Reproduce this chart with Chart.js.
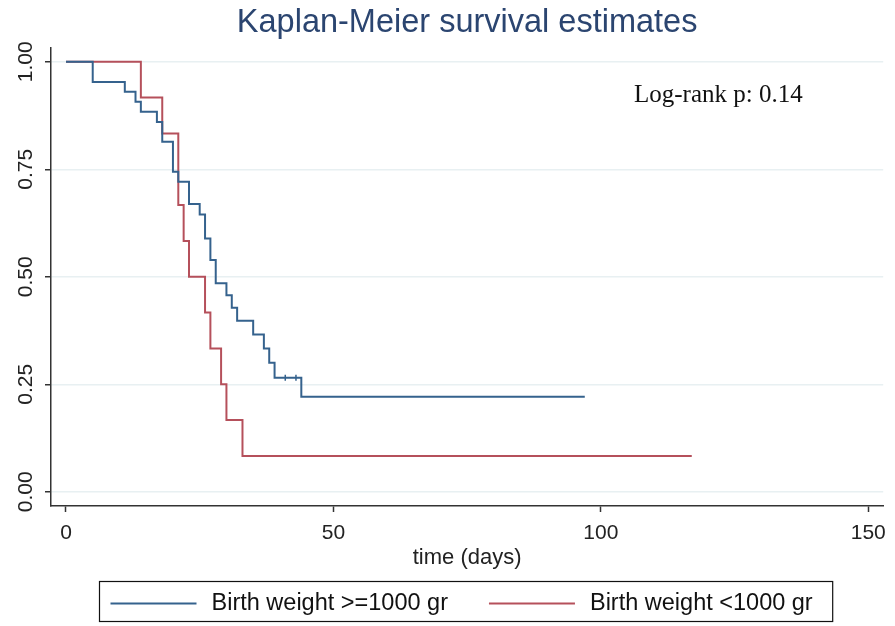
<!DOCTYPE html>
<html>
<head>
<meta charset="utf-8">
<title>Kaplan-Meier survival estimates</title>
<script src="https://cdn.jsdelivr.net/npm/chart.js@4.4.1/dist/chart.umd.min.js"></script>
<style>
  html, body { margin: 0; padding: 0; background: #fff; }
  #km { display: block; }
</style>
</head>
<body>
<canvas id="km" width="895" height="626"></canvas>
<script>
// survival estimates (time in days)
const blueDays = [0, 5, 11, 13, 14, 17, 18, 20, 21, 23, 25, 26, 27, 28, 30, 31, 32, 35, 37, 38, 39, 44, 97];
const blueSurv = [1, 0.953, 0.930, 0.907, 0.884, 0.860, 0.814, 0.744, 0.721, 0.669, 0.645, 0.589, 0.539, 0.485, 0.457, 0.428, 0.398, 0.366, 0.333, 0.300, 0.265, 0.221, 0.221];
const blueCensorDays = [41, 43];
const blueCensorSurv = [0.265, 0.265];

const redDays = [0, 14, 18, 21, 22, 23, 26, 27, 29, 30, 33, 117];
const redSurv = [1, 0.917, 0.833, 0.667, 0.583, 0.5, 0.417, 0.333, 0.25, 0.167, 0.083, 0.083];

const seriesNames = ['Birth weight >=1000 gr', 'Birth weight <1000 gr'];
const xTicks = [0, 50, 100, 150];
const yTicks = [0, 0.25, 0.5, 0.75, 1];
const logRankText = 'Log-rank p: 0.14';

const BLUE = '#35628d';
const RED = '#b5505b';
const SANS = "'Liberation Sans', Arial, sans-serif";

function toPoints(xs, ys) {
  return xs.map((x, i) => ({ x: x, y: ys[i] }));
}

// stata-like boxed legend and the log-rank note
const extras = {
  id: 'extras',
  afterDraw(chart) {
    const ctx = chart.ctx;
    const xs = chart.scales.x, ys = chart.scales.y;
    ctx.save();

    ctx.font = "25px 'Liberation Serif', 'Times New Roman', serif";
    ctx.fillStyle = '#111';
    ctx.textBaseline = 'alphabetic';
    ctx.fillText(logRankText, xs.getPixelForValue(106.2), ys.getPixelForValue(0.906));

    ctx.font = '23.5px ' + SANS;
    ctx.textBaseline = 'middle';
    const boxLeft = chart.chartArea.left + 48.5, boxTop = 581.5, boxH = 40;
    const midY = boxTop + boxH / 2 + 2;
    const colors = [BLUE, RED];
    let x = boxLeft + 11;
    seriesNames.forEach((name, i) => {
      ctx.strokeStyle = colors[i];
      ctx.lineWidth = 2;
      ctx.beginPath();
      ctx.moveTo(x, midY);
      ctx.lineTo(x + 86, midY);
      ctx.stroke();
      x += 86 + 15;
      ctx.fillStyle = '#111';
      ctx.fillText(name, x, midY);
      x += ctx.measureText(name).width + 41;
    });
    const boxW = x - 41 + 20 - boxLeft;
    ctx.strokeStyle = '#111';
    ctx.lineWidth = 1.2;
    ctx.strokeRect(boxLeft, boxTop, boxW, boxH);
    ctx.restore();
  }
};

new Chart(document.getElementById('km'), {
  type: 'line',
  data: {
    datasets: [{
      label: seriesNames[0],
      data: toPoints(blueDays, blueSurv),
      borderColor: BLUE,
      borderWidth: 2,
      stepped: true,
      pointRadius: 0,
      fill: false
    }, {
      label: seriesNames[1],
      data: toPoints(redDays, redSurv),
      borderColor: RED,
      borderWidth: 2,
      stepped: true,
      pointRadius: 0,
      fill: false
    }, {
      label: 'censored',
      data: toPoints(blueCensorDays, blueCensorSurv),
      showLine: false,
      pointStyle: 'line',
      rotation: 90,
      pointRadius: 3,
      borderColor: BLUE,
      borderWidth: 1.5
    }]
  },
  options: {
    responsive: false,
    animation: false,
    layout: { padding: { left: 0, right: 8, top: 0, bottom: 51 } },
    plugins: {
      legend: { display: false },
      tooltip: { enabled: false },
      title: {
        display: true,
        fullSize: false,
        text: 'Kaplan-Meier survival estimates',
        color: '#2b4570',
        font: { family: SANS, size: 32.5, weight: 'normal' },
        padding: { top: 4, bottom: 5 }
      }
    },
    scales: {
      x: {
        type: 'linear',
        min: -2.8,
        max: 152.8,
        afterBuildTicks: (scale) => { scale.ticks = xTicks.map(v => ({ value: v })); },
        afterFit: (scale) => { scale.height = 69; },
        grid: { drawOnChartArea: false, drawTicks: true, tickLength: 6, tickColor: '#333', tickWidth: 1.5 },
        border: { display: true, color: '#333', width: 1.5 },
        ticks: { color: '#222', font: { family: SANS, size: 21 }, padding: 9, maxRotation: 0 },
        title: {
          display: true,
          text: 'time (days)',
          color: '#222',
          font: { family: SANS, size: 22 },
          padding: { top: 0, bottom: 4 }
        }
      },
      y: {
        min: -0.033,
        max: 1.032,
        afterBuildTicks: (scale) => { scale.ticks = yTicks.map(v => ({ value: v })); },
        afterFit: (scale) => { scale.width = 51; },
        grid: { color: '#e8f0f2', lineWidth: 1.5, drawTicks: true, tickLength: 6, tickColor: '#333', tickWidth: 1.5 },
        border: { display: true, color: '#333', width: 1.5 },
        ticks: {
          color: '#222',
          font: { family: SANS, size: 21 },
          minRotation: 90,
          maxRotation: 90,
          crossAlign: 'center',
          padding: -1.5,
          callback: (v) => v.toFixed(2)
        }
      }
    }
  },
  plugins: [extras]
});
</script>
</body>
</html>
